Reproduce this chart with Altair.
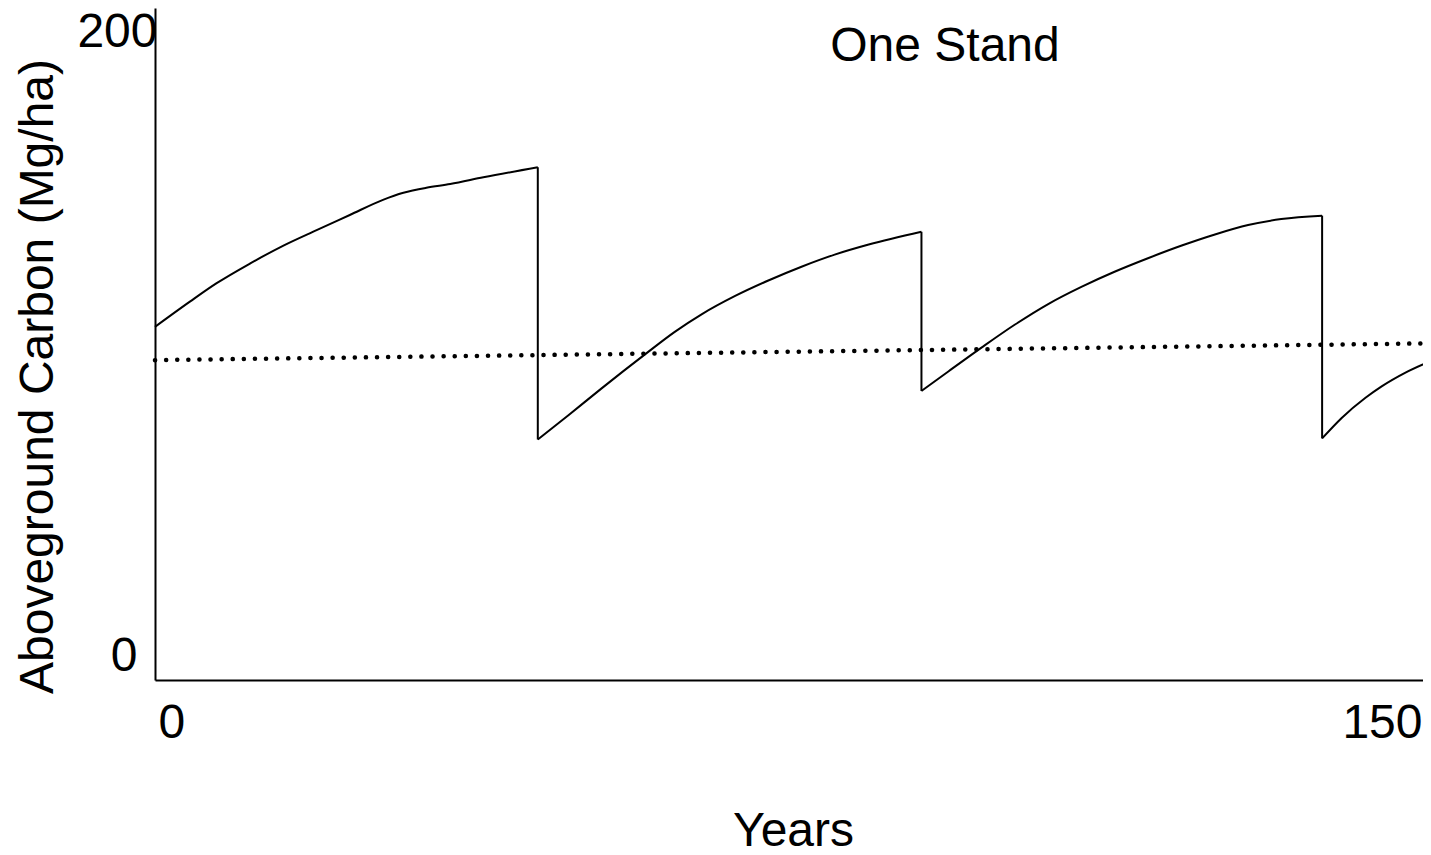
import altair as alt
import pandas as pd

# Solid line: aboveground carbon of one stand (Mg/ha) vs years.
# segment: growth periods (g1..g4) and harvest drops (d1..d3)
stand_years = [0, 4.1, 7.25, 11.2, 15.1, 19.0, 22.9, 26.8, 29.2, 31.9, 34.7, 38.6, 45.0,
               45.0, 45.0,
               45.0, 48.6, 52.5, 57.6, 61.1, 64.3, 68.2, 72.1, 76.0, 79.9, 83.9, 90.1,
               90.1, 90.1,
               90.1, 93.3, 97.2, 101.1, 105.0, 108.9, 112.8, 116.8, 120.7, 124.6, 128.5, 132.4, 137.2,
               137.2, 137.2,
               137.2, 139.5, 142.3, 144.2, 147.0, 150.0]
stand_carbon = [105.1, 112.6, 118.1, 124.0, 129.3, 133.9, 138.4, 142.9, 145.0, 146.5, 147.6, 149.6, 152.6,
                152.6, 71.6,
                71.6, 78.8, 86.8, 96.9, 103.6, 108.9, 114.3, 118.9, 123.0, 126.6, 129.6, 133.4,
                133.4, 86.0,
                86.0, 91.9, 99.0, 105.8, 111.9, 117.0, 121.5, 125.6, 129.3, 132.6, 135.4, 137.2, 138.2,
                138.2, 71.9,
                71.9, 78.0, 84.0, 87.4, 91.5, 95.0]
stand_segment = (["g1"] * 13 + ["d1"] * 2 + ["g2"] * 12 + ["d2"] * 2 +
                 ["g3"] * 13 + ["d3"] * 2 + ["g4"] * 6)

# Dotted line: landscape average
avg_years = [0, 150]
avg_carbon = [95.2, 100.2]

x_ticks = [0, 150]
y_ticks = [0, 200]

FONT = "Liberation Sans"
FS = 48

stand = pd.DataFrame({"year": stand_years, "carbon": stand_carbon, "seg": stand_segment,
                      "idx": range(len(stand_years))})
avg = pd.DataFrame({"year": avg_years, "carbon": avg_carbon, "idx": range(len(avg_years))})

x_scale = alt.Scale(domain=[0, 150], nice=False, zero=False)
y_scale = alt.Scale(domain=[0, 200], nice=False)

x_axis = alt.Axis(
    values=x_ticks, title="Years", ticks=False, grid=False,
    domainColor="black", domainWidth=2,
    labelFont=FONT, labelFontSize=FS, labelColor="black", labelFlush=True,
    labelOffset={"condition": {"test": "datum.value == 0", "value": 3}, "value": -9},
    labelPadding=19,
    titleFont=FONT, titleFontSize=FS, titleFontWeight="normal", titleColor="black",
    titleBaseline="alphabetic", titleX=638, titleY=165, titleAnchor="middle",
)
y_axis = alt.Axis(
    values=y_ticks, title="Aboveground Carbon (Mg/ha)", ticks=False, grid=False,
    domainColor="black", domainWidth=2,
    labelFont=FONT, labelFontSize=FS, labelColor="black", labelFlush=True,
    labelPadding={"condition": {"test": "datum.value == 0", "value": 18}, "value": -2},
    titleFont=FONT, titleFontSize=FS, titleFontWeight="normal", titleColor="black",
    titleBaseline="alphabetic", titleAngle=270, titleX=-103, titleY=368, titleAlign="center",
)

solid = alt.Chart(stand).mark_line(color="black", strokeWidth=2, interpolate="monotone").encode(
    x=alt.X("year:Q", scale=x_scale, axis=x_axis),
    y=alt.Y("carbon:Q", scale=y_scale, axis=y_axis),
    detail="seg:N",
    order="idx:Q",
)

dotted = alt.Chart(avg).mark_line(color="black", strokeWidth=4.5, strokeDash=[0.1, 11], strokeCap="round").encode(
    x=alt.X("year:Q", scale=x_scale, axis=x_axis),
    y=alt.Y("carbon:Q", scale=y_scale, axis=y_axis),
    order="idx:Q",
)

chart = alt.layer(solid, dotted).properties(
    width=1276, height=672,
    background="white",
    title=alt.TitleParams("One Stand", font=FONT, fontSize=FS, fontWeight="normal", color="black",
                          anchor="middle", dx=152, offset=-101, baseline="alphabetic"),
    autosize=alt.AutoSizeParams(type="none"),
    padding={"left": 147, "top": 0, "right": -8, "bottom": 167},
).configure_view(strokeWidth=0, strokeOpacity=0).configure_axis(grid=False)

chart.save("out.html", embed_options={"renderer": "svg", "actions": False})
